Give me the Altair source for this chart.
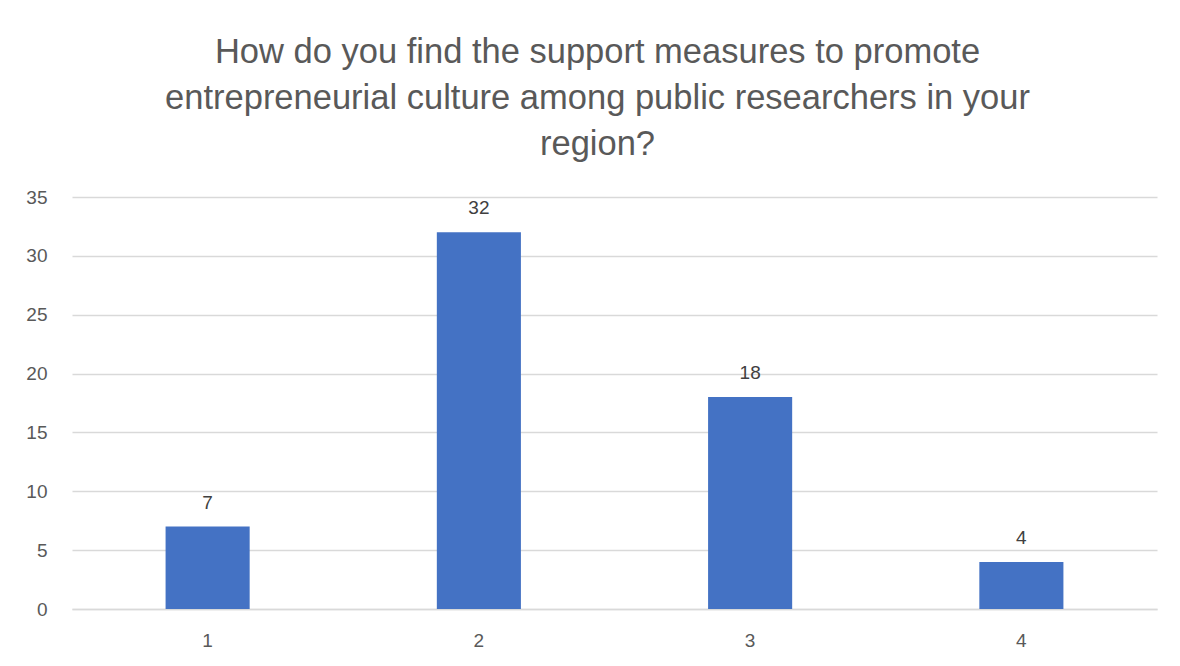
import altair as alt
import pandas as pd

categories = ["1", "2", "3", "4"]
values = [7, 32, 18, 4]
title_lines = ["How do you find the support measures to promote",
               "entrepreneurial culture among public researchers in your",
               "region?"]

df = pd.DataFrame({"cat": categories, "val": values})

base = alt.Chart(df).encode(
    x=alt.X("cat:N", sort=categories, title=None,
            scale=alt.Scale(paddingInner=0.69, paddingOuter=0.345),
            axis=alt.Axis(labelAngle=0, labelFontSize=19, labelColor="#595959",
                          labelFont="Liberation Sans", labelPadding=22,
                          ticks=False, domainColor="#d9d9d9", domainWidth=1.5,
                          grid=False)),
    y=alt.Y("val:Q", title=None,
            scale=alt.Scale(domain=[0, 35]),
            axis=alt.Axis(values=[0, 5, 10, 15, 20, 25, 30, 35], labelFontSize=19,
                          labelColor="#595959", labelFont="Liberation Sans",
                          labelPadding=25, ticks=False, domain=False,
                          gridColor="#d9d9d9", gridWidth=1.3)),
)

bars = base.mark_bar(color="#4472C4")
labels = base.mark_text(dy=-14, baseline="bottom", fontSize=19, color="#404040",
                        font="Liberation Sans").encode(text="val:Q")

chart = alt.layer(bars, labels, view=alt.ViewBackground(stroke="transparent", strokeWidth=0)).properties(
    width=1085, height=412,
    title=alt.TitleParams(text=title_lines, fontSize=34.5, font="Liberation Sans",
                          fontWeight="normal", color="#595959", lineHeight=46,
                          anchor="middle", dx=-17, offset=26),
    autosize=alt.AutoSizeParams(type="none"),
    padding={"left": 64, "top": 189, "right": 15, "bottom": 40},
).configure_view(stroke="transparent", strokeOpacity=0, strokeWidth=0).configure(background="white")

chart.save("out.html", embed_options={"renderer": "svg", "actions": False})
